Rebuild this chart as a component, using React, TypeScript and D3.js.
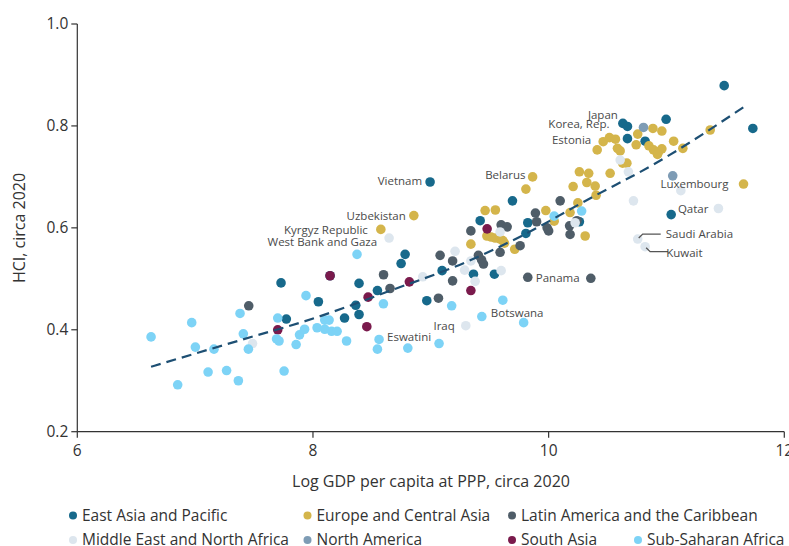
import React from 'react';
import * as d3 from 'd3';

type P = [number, number];

// ---------- DATA (log GDP per capita at PPP, HCI) ----------
const eastAsiaPacific: P[] = [
  [7.729, 0.492], [7.774, 0.421], [8.046, 0.455], [8.145, 0.506], [8.268, 0.423],
  [8.363, 0.448], [8.391, 0.491], [8.391, 0.430], [8.547, 0.477], [8.748, 0.530],
  [8.782, 0.548], [8.966, 0.457], [9.096, 0.516], [8.994, 0.690], [9.362, 0.509],
  [9.540, 0.509], [9.419, 0.614], [9.693, 0.653], [9.823, 0.610], [9.807, 0.589],
  [10.261, 0.612], [10.630, 0.805], [10.669, 0.799], [10.669, 0.775], [10.819, 0.770],
  [10.997, 0.813], [11.040, 0.626], [11.490, 0.879], [11.733, 0.795],
];
const europeCentralAsia: P[] = [
  [8.576, 0.597], [8.856, 0.624], [9.461, 0.634], [9.548, 0.635],
  [9.476, 0.584], [9.512, 0.582], [9.546, 0.580], [9.588, 0.578], [9.611, 0.575], [9.625, 0.570],
  [9.340, 0.568], [9.712, 0.558], [9.864, 0.700], [9.807, 0.676], [9.976, 0.634],
  [10.047, 0.613], [10.182, 0.630], [10.248, 0.649], [10.310, 0.584], [10.208, 0.681],
  [10.324, 0.689], [10.395, 0.682], [10.403, 0.664], [10.261, 0.710], [10.340, 0.707],
  [10.522, 0.707], [10.628, 0.727], [10.664, 0.727], [10.463, 0.769], [10.516, 0.777],
  [10.567, 0.774], [10.412, 0.753], [10.584, 0.756], [10.607, 0.751], [10.743, 0.763],
  [10.756, 0.784], [10.885, 0.795], [10.961, 0.790], [10.851, 0.761], [10.890, 0.753],
  [10.932, 0.749], [10.961, 0.755], [10.924, 0.744], [11.061, 0.770], [11.139, 0.756],
  [11.371, 0.792], [11.654, 0.686],
];
const latinAmericaCaribbean: P[] = [
  [7.455, 0.447], [8.599, 0.508], [8.654, 0.481], [9.065, 0.462], [9.185, 0.496],
  [9.185, 0.535], [9.079, 0.546], [9.404, 0.546], [9.431, 0.537], [9.447, 0.529],
  [9.340, 0.594], [9.597, 0.606], [9.648, 0.602], [9.588, 0.552], [9.758, 0.565],
  [9.888, 0.629], [9.898, 0.612], [10.098, 0.653], [9.987, 0.600], [10.000, 0.594],
  [10.178, 0.604], [10.182, 0.587], [10.240, 0.614], [9.823, 0.503], [10.358, 0.501],
];
const middleEastNorthAfrica: P[] = [
  [7.487, 0.373], [8.932, 0.504], [8.646, 0.580], [9.206, 0.554], [9.340, 0.535],
  [9.287, 0.517], [9.376, 0.495], [9.597, 0.516], [9.588, 0.592], [9.297, 0.408],
  [10.225, 0.610], [10.607, 0.733], [10.677, 0.710], [10.720, 0.653], [11.122, 0.673],
  [11.441, 0.638], [10.756, 0.578], [10.819, 0.563],
];
const northAmerica: P[] = [
  [10.805, 0.797], [11.053, 0.702],
];
const southAsia: P[] = [
  [7.701, 0.400], [8.145, 0.506], [8.468, 0.464], [8.457, 0.406], [8.818, 0.494],
  [9.478, 0.598], [9.340, 0.477],
];
const subSaharanAfrica: P[] = [
  [6.626, 0.386], [6.852, 0.292], [6.971, 0.414], [7.002, 0.366], [7.110, 0.317],
  [7.160, 0.362], [7.267, 0.320], [7.367, 0.300], [7.381, 0.432], [7.409, 0.392],
  [7.452, 0.362], [7.701, 0.423], [7.691, 0.382], [7.712, 0.378], [7.755, 0.319],
  [7.857, 0.371], [7.886, 0.390], [7.929, 0.401], [7.941, 0.467], [8.035, 0.404],
  [8.100, 0.419], [8.137, 0.419], [8.100, 0.401], [8.158, 0.397], [8.205, 0.397],
  [8.285, 0.378], [8.374, 0.548], [8.598, 0.451], [8.561, 0.381], [8.547, 0.362],
  [8.805, 0.364], [9.070, 0.373], [9.177, 0.447], [9.611, 0.458], [9.433, 0.426],
  [9.788, 0.414], [10.047, 0.623], [10.280, 0.633],
];

// fitted trend line
const trendX = [6.626, 7.5, 7.933, 8.68, 9.308, 9.758, 10.378, 10.887, 11.685];
const trendY = [0.3275, 0.3875, 0.4169, 0.4787, 0.5337, 0.5827, 0.6612, 0.7239, 0.8417];

const xTicks = [6, 8, 10, 12];
const yTicks = [0.2, 0.4, 0.6, 0.8, 1.0];

const regionNames = [
  'East Asia and Pacific',
  'Europe and Central Asia',
  'Latin America and the Caribbean',
  'Middle East and North Africa',
  'North America',
  'South Asia',
  'Sub-Saharan Africa',
];
const regionData: P[][] = [
  eastAsiaPacific, europeCentralAsia, latinAmericaCaribbean, middleEastNorthAfrica,
  northAmerica, southAsia, subSaharanAfrica,
];

// labelled countries: name, point
const labelNames = ['Japan', 'Korea, Rep.', 'Estonia', 'Belarus', 'Vietnam', 'Uzbekistan',
  'Kyrgyz Republic', 'West Bank and Gaza', 'Luxembourg', 'Qatar', 'Saudi Arabia', 'Kuwait',
  'Panama', 'Botswana', 'Iraq', 'Eswatini'];
const labelPoints: P[] = [
  [10.630, 0.805], [10.669, 0.799], [10.463, 0.769], [9.864, 0.700], [8.994, 0.690], [8.856, 0.624],
  [8.576, 0.597], [8.646, 0.580], [11.654, 0.686], [11.441, 0.638], [10.756, 0.578], [10.819, 0.563],
  [9.823, 0.503], [9.433, 0.426], [9.297, 0.408], [8.561, 0.381],
];

// ---------- STYLE / LAYOUT ----------
const W = 789, H = 546;
const colors = ['#17698b', '#d4b54b', '#4f5d68', '#dde6ee', '#7e9cb5', '#7a1a4c', '#7dd3f6'];
// label offsets (px) relative to their point: dx, dy, anchor
const labelLayout: [number, number, string][] = [
  [-5, -8, 'end'], [-18, -2, 'end'], [-12, -2, 'end'], [-7, -2, 'end'], [-8, -1, 'end'], [-8, 0, 'end'],
  [-13, 1, 'end'], [-12, 4, 'end'], [-15, 0, 'end'], [-10, 0, 'end'], [28, -5, 'start'], [21, 6, 'start'],
  [8, 1, 'start'], [9, -4, 'start'], [-11, 0, 'end'], [8, -2, 'start'],
];
const legendCols = [73, 307.5, 512, 638];
const legendRows = [515.5, 540];
const legendSlots: [number, number][] = [[0, 0], [1, 0], [2, 0], [0, 1], [1, 1], [2, 1], [3, 1]];

const FONT = "'Open Sans', 'DejaVu Sans', sans-serif";

export default function App() {
  const x = d3.scaleLinear().domain([6, 12]).range([77.3, 784.3]);
  const y = d3.scaleLinear().domain([0.2, 1.0]).range([431.7, 24]);
  const axisColor = '#333';

  const trend = d3.line<number>()
    .x((_, i) => x(trendX[i]))
    .y((d) => y(d))
    .curve(d3.curveMonotoneX)(trendY) as string;

  return (
    <svg width={W} height={H} style={{ position: 'absolute', left: 0, top: 0, background: '#fff' }}
      fontFamily={FONT}>
      {/* axes */}
      <line x1={x(6)} x2={x(6)} y1={y(1.0)} y2={y(0.2)} stroke={axisColor} strokeWidth={1.2} />
      <line x1={x(6)} x2={x(12)} y1={y(0.2)} y2={y(0.2)} stroke={axisColor} strokeWidth={1.2} />
      {yTicks.map((t) => (
        <g key={'y' + t}>
          <line x1={x(6) - 6} x2={x(6)} y1={y(t)} y2={y(t)} stroke={axisColor} strokeWidth={1.2} />
          <text x={x(6) - 9} y={y(t)} dy="0.35em" textAnchor="end" fontSize={15.5} fill="#333">
            {d3.format('.1f')(t)}
          </text>
        </g>
      ))}
      {xTicks.map((t) => (
        <g key={'x' + t}>
          <line x1={x(t)} x2={x(t)} y1={y(0.2)} y2={y(0.2) + 6} stroke={axisColor} strokeWidth={1.2} />
          <text x={x(t)} y={y(0.2) + 24} textAnchor="middle" fontSize={15.5} fill="#333">{t}</text>
        </g>
      ))}
      <text x={431} y={487} textAnchor="middle" fontSize={16} fill="#333">
        Log GDP per capita at PPP, circa 2020
      </text>
      <text transform={`translate(25,228) rotate(-90)`} textAnchor="middle" fontSize={16} fill="#333">
        HCI, circa 2020
      </text>

      {/* points */}
      {regionData.map((arr, ri) => (
        <g key={'r' + ri}>
          {arr.map((d, i) => (
            <circle key={i} cx={x(d[0])} cy={y(d[1])} r={4.8} fill={colors[ri]} />
          ))}
        </g>
      ))}

      {/* trend line */}
      <path d={trend} fill="none" stroke="#1d4f73" strokeWidth={2.2} strokeDasharray="10 6" />

      {/* leader lines */}
      {[10, 11].map((li) => {
        const px = x(labelPoints[li][0]);
        const py = y(labelPoints[li][1]);
        const up = li === 10;
        const ey = up ? py - 5 : py + 5;
        return (
          <polyline key={'ld' + li} fill="none" stroke="#555" strokeWidth={1.3}
            points={`${px + 1},${py + (up ? -1 : 1)} ${px + 5},${ey} ${px + 23},${ey}`} />
        );
      })}

      {/* labels */}
      {labelNames.map((n, i) => {
        const [dx, dy, anchor] = labelLayout[i];
        return (
          <text key={n} x={x(labelPoints[i][0]) + dx} y={y(labelPoints[i][1]) + dy} dy="0.35em"
            textAnchor={anchor as any} fontSize={11.5} fill="#4a4a4a">{n}</text>
        );
      })}

      {/* legend */}
      {regionNames.map((n, i) => {
        const [c, r] = legendSlots[i];
        const cx = legendCols[c];
        const cy = legendRows[r];
        return (
          <g key={'lg' + i}>
            <circle cx={cx} cy={cy} r={4} fill={colors[i]} />
            <text x={cx + 9} y={cy} dy="0.35em" fontSize={15.5} fill="#333">{n}</text>
          </g>
        );
      })}
    </svg>
  );
}
